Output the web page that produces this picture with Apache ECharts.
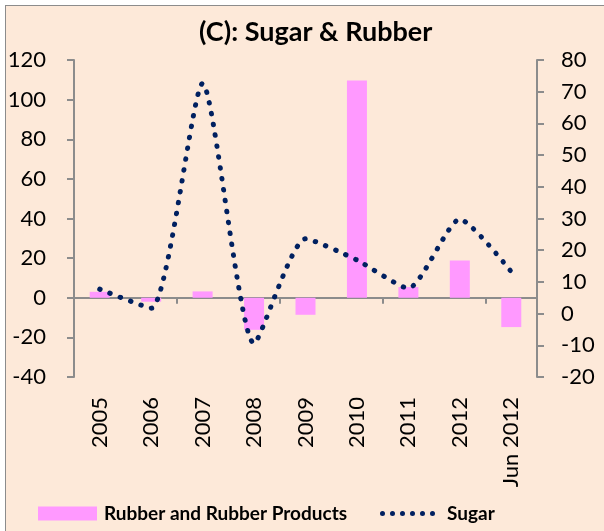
<!DOCTYPE html>
<html>
<head>
<meta charset="utf-8">
<script src="https://cdn.jsdelivr.net/npm/echarts@6/dist/echarts.min.js"></script>
<style>
  html, body { margin: 0; padding: 0; background: #ffffff; }
  .frame {
    position: absolute; left: 5px; top: 5px; width: 640px; height: 560px;
    background: #fde9d9; border-left: 1px solid #8c8c8c; border-top: 1px solid #8c8c8c;
  }
  .com-chart { position: absolute; left: 0; top: 0; width: 604px; height: 531px; }
</style>
</head>
<body>
<div class="frame"></div>
<div class="com-chart" id="main"></div>
<script>
var fontName = 'Lato'
var axisColor = '#8c8c8c'
var navy = '#002060'

var categories = ['2005', '2006', '2007', '2008', '2009', '2010', '2011', '2012', 'Jun 2012']
// Rubber and Rubber Products (left axis)
var rubberValues = [3, -2, 3.2, -16.2, -8.6, 109.7, 5.4, 18.8, -14.8]
// Sugar (right axis)
var sugarValues = [7.7, 1.7, 72.6, -9.4, 23.6, 16.9, 8, 29.8, 13.2]
var leftTicks = { min: -40, max: 120, interval: 20 }
var rightTicks = { min: -20, max: 80, interval: 10 }

// six round dots for the Sugar legend swatch
var dotIcon = 'path://'
for (var i = 0; i < 6; i++) {
  var cx = 2.5 + i * 10
  dotIcon += 'M' + (cx - 2.5) + ',2.5a2.5,2.5 0 1,0 5,0a2.5,2.5 0 1,0 -5,0z'
}

var option = {
  backgroundColor: 'transparent',
  textStyle: { fontFamily: fontName },
  title: {
    text: '(C): Sugar & Rubber',
    left: 194,
    top: 14,
    textStyle: { fontFamily: fontName, fontSize: 27, fontWeight: 'bold', color: '#000' }
  },
  grid: { left: 74, right: 67, top: 60, bottom: 154 },
  legend: [
    {
      data: [{ name: 'Rubber and Rubber Products', icon: 'rect' }],
      left: 33,
      top: 499,
      itemWidth: 59,
      itemHeight: 14,
      textStyle: { fontFamily: fontName, fontSize: 19, fontWeight: 'bold', color: '#000', padding: [0, 0, 0, 2] }
    },
    {
      data: [{
        name: 'Sugar',
        icon: dotIcon,
        itemStyle: { color: navy },
        lineStyle: { width: 0 }
      }],
      left: 375,
      top: 499,
      itemWidth: 55,
      itemHeight: 5,
      textStyle: { fontFamily: fontName, fontSize: 19, fontWeight: 'bold', color: '#000', padding: [0, 0, 0, 7] }
    }
  ],
  xAxis: [
    {
      type: 'category',
      data: categories,
      position: 'bottom',
      axisLine: { show: false, onZero: false },
      axisTick: { show: false },
      axisLabel: {
        rotate: 90,
        margin: 20,
        fontFamily: fontName,
        fontSize: 22,
        color: '#000',
        interval: 0
      }
    },
    {
      type: 'category',
      data: categories,
      position: 'bottom',
      axisLine: { show: true, onZero: true, onZeroAxisIndex: 0, lineStyle: { color: axisColor, width: 2 } },
      axisTick: { show: true, length: 6, lineStyle: { color: axisColor, width: 2 } },
      axisLabel: { show: false }
    }
  ],
  yAxis: [
    {
      type: 'value',
      min: leftTicks.min,
      max: leftTicks.max,
      interval: leftTicks.interval,
      axisLine: { show: true, lineStyle: { color: axisColor, width: 2 } },
      axisTick: { show: true, length: 7, lineStyle: { color: axisColor, width: 2 } },
      splitLine: { show: false },
      axisLabel: { margin: 28, fontFamily: fontName, fontSize: 22, color: '#000' }
    },
    {
      type: 'value',
      position: 'right',
      min: rightTicks.min,
      max: rightTicks.max,
      interval: rightTicks.interval,
      axisLine: { show: true, lineStyle: { color: axisColor, width: 2 } },
      axisTick: { show: true, length: 7, lineStyle: { color: axisColor, width: 2 } },
      splitLine: { show: false },
      axisLabel: { margin: 24, fontFamily: fontName, fontSize: 22, color: '#000' }
    }
  ],
  series: [
    {
      name: 'Rubber and Rubber Products',
      type: 'bar',
      xAxisIndex: 0,
      yAxisIndex: 0,
      barWidth: 20,
      itemStyle: { color: '#ff99ff' },
      data: rubberValues
    },
    {
      name: 'Sugar',
      type: 'line',
      xAxisIndex: 0,
      yAxisIndex: 1,
      smooth: 0.2,
      symbol: 'none',
      lineStyle: { color: navy, width: 5, type: [0.5, 10.5], cap: 'round' },
      itemStyle: { color: navy },
      data: sugarValues
    }
  ]
}

var chart = echarts.init(document.getElementById('main'))
chart.setOption(option)
</script>
</body>
</html>
